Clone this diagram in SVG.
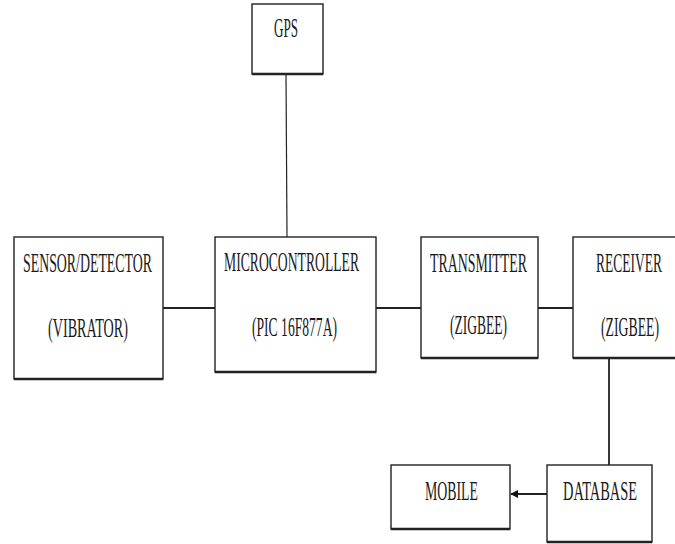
<svg xmlns="http://www.w3.org/2000/svg" width="675" height="544" viewBox="0 0 675 544">
<style>
.box{fill:#fff;stroke:#222;stroke-width:1.4}
.sh{stroke:#222;stroke-width:2.6}
.t{font-family:"Liberation Serif","Times New Roman",serif;font-size:27px;fill:#1a1a1a}
.c{stroke:#222;stroke-width:1.8;fill:none}
</style>
<defs>
<marker id="ah" viewBox="0 0 10 10" refX="9" refY="5" markerWidth="8" markerHeight="9" orient="auto" markerUnits="userSpaceOnUse">
<path d="M0,0 L10,5 L0,10 z" fill="#111"/>
</marker>
</defs>
<rect width="675" height="544" fill="#fff"/>
<g id="connectors">
<line class="c" x1="286" y1="74" x2="287" y2="237" style="stroke-width:1.2"/>
<line class="c" x1="163" y1="308" x2="215" y2="308"/>
<line class="c" x1="376" y1="308" x2="421" y2="308"/>
<line class="c" x1="538" y1="308" x2="573" y2="308"/>
<line class="c" x1="609" y1="358" x2="609" y2="465"/>
<line class="c" x1="547" y1="494" x2="511" y2="494" marker-end="url(#ah)"/>
</g>
<g id="gps">
<rect class="box" x="252" y="4" width="71" height="70"/>
<line class="sh" x1="252" y1="74" x2="323" y2="74"/>
<g transform="translate(274,37) scale(0.5,1)"><text class="t" x="0" y="0" textLength="48" lengthAdjust="spacingAndGlyphs">GPS</text></g>
</g>
<g id="sensor">
<rect class="box" x="14" y="237" width="149" height="142"/>
<line class="sh" x1="14" y1="379" x2="163" y2="379"/>
<g transform="translate(23,272) scale(0.5,1)"><text class="t" x="0" y="0" textLength="258" lengthAdjust="spacingAndGlyphs">SENSOR/DETECTOR</text></g>
<g transform="translate(48,337) scale(0.5,1)"><text class="t" x="0" y="0" textLength="160" lengthAdjust="spacingAndGlyphs">(VIBRATOR)</text></g>
</g>
<g id="microcontroller">
<rect class="box" x="215" y="237" width="161" height="135"/>
<line class="sh" x1="215" y1="372" x2="376" y2="372"/>
<g transform="translate(224,271) scale(0.5,1)"><text class="t" x="0" y="0" textLength="270" lengthAdjust="spacingAndGlyphs">MICROCONTROLLER</text></g>
<g transform="translate(252,336) scale(0.5,1)"><text class="t" x="0" y="0" textLength="170" lengthAdjust="spacingAndGlyphs">(PIC 16F877A)</text></g>
</g>
<g id="transmitter">
<rect class="box" x="421" y="237" width="117" height="121"/>
<line class="sh" x1="421" y1="358" x2="538" y2="358"/>
<g transform="translate(430,272) scale(0.5,1)"><text class="t" x="0" y="0" textLength="194" lengthAdjust="spacingAndGlyphs">TRANSMITTER</text></g>
<g transform="translate(450,334) scale(0.5,1)"><text class="t" x="0" y="0" textLength="114" lengthAdjust="spacingAndGlyphs">(ZIGBEE)</text></g>
</g>
<g id="receiver">
<rect class="box" x="573" y="237" width="110" height="121"/>
<line class="sh" x1="573" y1="358" x2="683" y2="358"/>
<g transform="translate(596,272) scale(0.5,1)"><text class="t" x="0" y="0" textLength="132" lengthAdjust="spacingAndGlyphs">RECEIVER</text></g>
<g transform="translate(601,336) scale(0.5,1)"><text class="t" x="0" y="0" textLength="116" lengthAdjust="spacingAndGlyphs">(ZIGBEE)</text></g>
</g>
<g id="mobile">
<rect class="box" x="391" y="465" width="119" height="64"/>
<line class="sh" x1="391" y1="529" x2="510" y2="529"/>
<g transform="translate(425,500) scale(0.5,1)"><text class="t" x="0" y="0" textLength="106" lengthAdjust="spacingAndGlyphs">MOBILE</text></g>
</g>
<g id="database">
<rect class="box" x="547" y="465" width="105" height="77"/>
<line class="sh" x1="547" y1="542" x2="652" y2="542"/>
<g transform="translate(563,500) scale(0.5,1)"><text class="t" x="0" y="0" textLength="148" lengthAdjust="spacingAndGlyphs">DATABASE</text></g>
</g>
</svg>
